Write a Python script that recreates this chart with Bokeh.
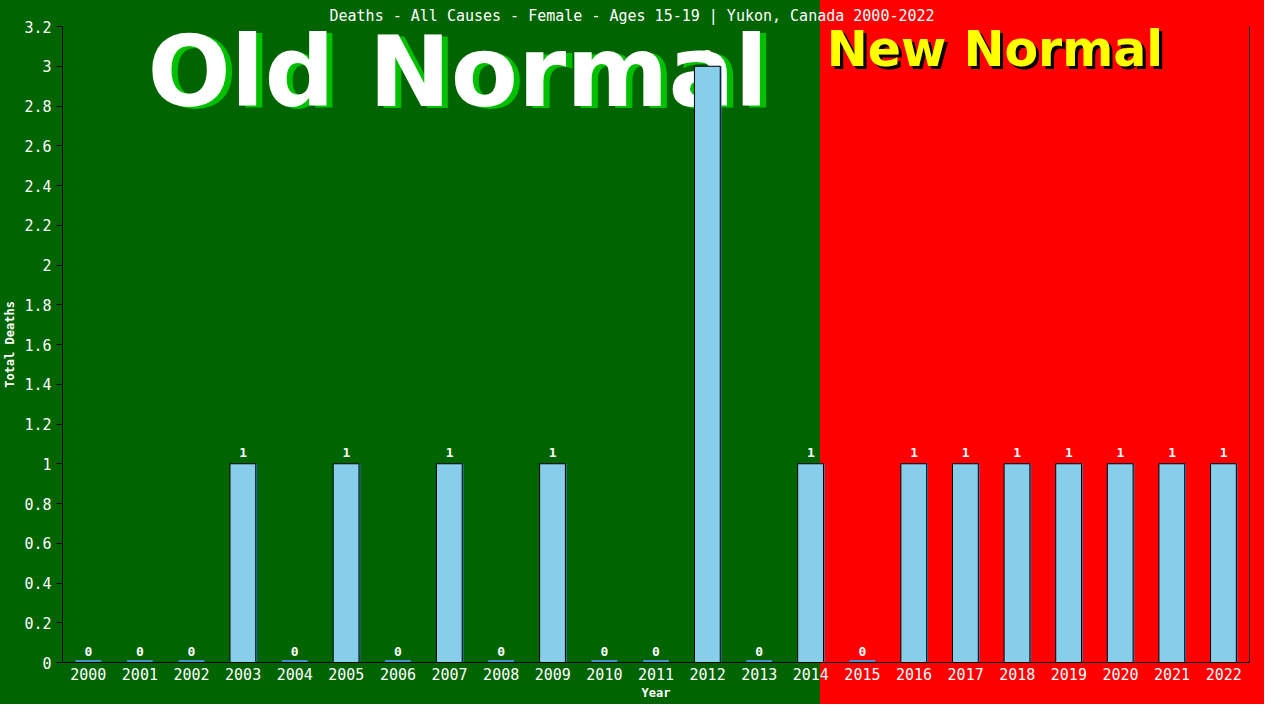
from bokeh.plotting import figure
from bokeh.models import Range1d, FixedTicker, CustomJSTickFormatter, LinearAxis, Label, ColumnDataSource
from bokeh.transform import dodge
from bokeh.core.properties import value
from bokeh.embed import file_html
from bokeh.resources import INLINE

# ---- data ----
years = ["2000", "2001", "2002", "2003", "2004", "2005", "2006", "2007", "2008", "2009", "2010",
         "2011", "2012", "2013", "2014", "2015", "2016", "2017", "2018", "2019", "2020", "2021", "2022"]
deaths = [0, 0, 0, 1, 0, 1, 0, 1, 0, 1, 0, 0, 3, 0, 1, 0, 1, 1, 1, 1, 1, 1, 1]
y_ticks = [0, 0.2, 0.4, 0.6, 0.8, 1, 1.2, 1.4, 1.6, 1.8, 2, 2.2, 2.4, 2.6, 2.8, 3, 3.2]
title_text = "Deaths - All Causes - Female - Ages 15-19 | Yukon, Canada 2000-2022"

W, H = 1264, 704
FONT = "DejaVu Sans Mono"
GREEN = "#006400"
RED = "#ff0000"
split_px = 820

p = figure(x_range=years, y_range=Range1d(0, 3.2), width=W, height=H,
           output_backend="svg", toolbar_location=None, title=title_text,
           min_border_left=60, min_border_right=15, min_border_top=26, min_border_bottom=42)
p.styles = {"background": f"linear-gradient(to right, {GREEN} 0px, {GREEN} {split_px}px, {RED} {split_px}px, {RED} 100%)"}
p.border_fill_alpha = 0
p.background_fill_alpha = 0
p.outline_line_color = None
p.grid.visible = False
p.x_range.range_padding = 0

# title: left aligned with an offset so that it sits centred on the whole canvas
p.title.align = "left"
p.title.offset = 267
p.title.text_color = "white"
p.title.text_font = FONT
p.title.text_font_size = "15px"
p.title.text_font_style = "normal"
p.title.standoff = 4

# big texts (drawn beneath the bars)
p.add_layout(Label(x=7.78, y=2.962, text="Old Normal", text_font="DejaVu Sans",
                   text_font_style="bold", text_font_size="98px", text_color="#00c000",
                   text_align="center", text_baseline="alphabetic", level="underlay"))
p.add_layout(Label(x=7.66, y=2.969, text="Old Normal", text_font="DejaVu Sans",
                   text_font_style="bold", text_font_size="98px", text_color="white",
                   text_align="center", text_baseline="alphabetic", level="underlay"))
p.add_layout(Label(x=14.87, y=3.071, text="New Normal", text_font="DejaVu Sans",
                   text_font_style="bold", text_font_size="49px", text_color="black",
                   text_align="left", text_baseline="alphabetic", level="underlay"))
p.add_layout(Label(x=14.81, y=3.086, text="New Normal", text_font="DejaVu Sans",
                   text_font_style="bold", text_font_size="49px", text_color="#ffff00",
                   text_align="left", text_baseline="alphabetic", level="underlay"))

src = ColumnDataSource(dict(x=years, top=deaths, lab=[str(v) for v in deaths],
                            base=[0] * len(years)))
nz_years = [y for y, v in zip(years, deaths) if v != 0]
nz_vals = [v for v in deaths if v != 0]
src_nz = ColumnDataSource(dict(x=nz_years, top=nz_vals))

# shadow bars
p.vbar(x=dodge("x", 0.02, range=p.x_range), top="top", bottom=0, width=0.5, source=src,
       fill_color="#3a7fc0", line_color=None)
p.rect(x="x", y="base", width=0.5, height=5, height_units="screen", source=src,
       fill_color="#4a90d0", line_color=None)
# main bars
p.vbar(x=dodge("x", -0.005, range=p.x_range), top="top", bottom=0, width=0.5, source=src_nz,
       fill_color="#87CEEB", line_color="black", line_width=1)
# value labels
p.text(x="x", y="top", text="lab", source=src, text_align="center", text_baseline="bottom",
       y_offset=-7, text_color="white", text_font=value(FONT), text_font_size="13px",
       text_font_style="bold")

# axes
ya = p.yaxis[0]
ya.ticker = FixedTicker(ticks=y_ticks)
ya.formatter = CustomJSTickFormatter(code="return (Math.round(tick*10)/10).toString();")
ya.axis_label = "Total Deaths"
ya.axis_label_text_color = "white"
ya.axis_label_text_font = FONT
ya.axis_label_text_font_size = "12px"
ya.axis_label_text_font_style = "bold"
ya.axis_label_standoff = 4
ya.major_label_text_color = "white"
ya.major_label_text_font = FONT
ya.major_label_text_font_size = "15px"
ya.major_label_standoff = 5
ya.major_tick_out = 6
ya.major_tick_in = 0
ya.minor_tick_out = 0
ya.minor_tick_in = 0
ya.axis_line_color = "black"
ya.major_tick_line_color = "black"

xa = p.xaxis[0]
xa.axis_label = "Year"
xa.axis_label_text_color = "white"
xa.axis_label_text_font = FONT
xa.axis_label_text_font_size = "12px"
xa.axis_label_text_font_style = "bold"
xa.axis_label_standoff = 3
xa.major_label_text_color = "white"
xa.major_label_text_font = FONT
xa.major_label_text_font_size = "15px"
xa.major_label_standoff = 5
xa.major_tick_out = 0
xa.major_tick_in = 0
xa.axis_line_color = "black"

ra = LinearAxis(ticker=FixedTicker(ticks=[]), axis_line_color="black",
                major_tick_out=0, major_tick_in=0, minor_tick_out=0, minor_tick_in=0,
                major_label_text_color=None)
p.add_layout(ra, "right")

open("out.html", "w").write(file_html(p, INLINE))
